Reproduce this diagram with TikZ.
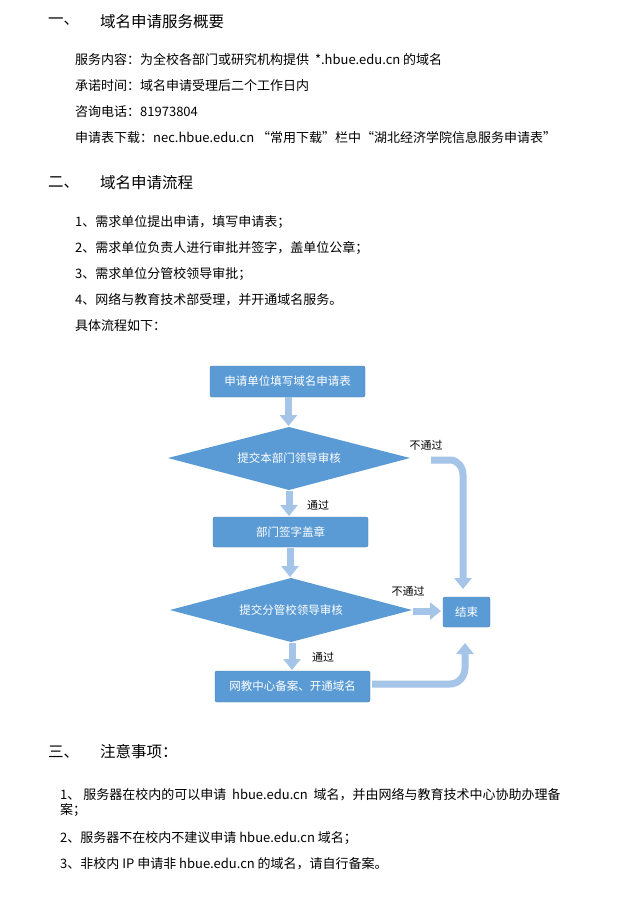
\documentclass[tikz,border=0pt]{standalone}
\usepackage{fontspec}
\setmainfont{Noto Sans CJK SC}
\usetikzlibrary{shapes.geometric,arrows.meta}
\definecolor{boxblue}{HTML}{5B9BD5}
\definecolor{arrblue}{HTML}{A4C4E8}
\begin{document}
\begin{tikzpicture}[x=1pt,y=-1pt,
  txt/.style={anchor=west,font=\fontsize{13}{15}\selectfont,inner sep=0},
  head/.style={anchor=west,font=\fontsize{15.5}{18}\selectfont,inner sep=0},
  flowbox/.style={draw=boxblue!80!black,line width=0.4pt,fill=boxblue,rounded corners=2pt,text=white,font=\fontsize{11.5}{13}\selectfont,inner sep=0},
  dia/.style={fill=boxblue,text=white,font=\fontsize{11.5}{13}\selectfont},
  lab/.style={font=\fontsize{11}{13}\selectfont,inner sep=0},
  fat/.style={draw=arrblue,line width=7pt,-{Triangle[width=17pt,length=11pt]}}]
\useasboundingbox[fill=white] (0,0) rectangle (641,910);
\node[head] (h1a) at (48,22) {一、};
\node[head] (h1b) at (100,22) {域名申请服务概要};
\node[txt] (t1) at (75,60) {服务内容：为全校各部门或研究机构提供 \ *.hbue.edu.cn 的域名};
\node[txt] (t2) at (75,86) {承诺时间：域名申请受理后二个工作日内};
\node[txt] (t3) at (75,112) {咨询电话：81973804};
\node[txt] (t4) at (75,138) {申请表下载：nec.hbue.edu.cn “常用下载”栏中“湖北经济学院信息服务申请表”};
\node[head] (h2a) at (48,183) {二、};
\node[head] (h2b) at (100,183) {域名申请流程};
\node[txt] (s1) at (75,222) {1、需求单位提出申请，填写申请表；};
\node[txt] (s2) at (75,248) {2、需求单位负责人进行审批并签字，盖单位公章；};
\node[txt] (s3) at (75,274) {3、需求单位分管校领导审批；};
\node[txt] (s4) at (75,300) {4、网络与教育技术部受理，并开通域名服务。};
\node[txt] (s5) at (75,326) {具体流程如下：};
% flow
\node[flowbox,minimum width=155pt,minimum height=31pt] (b1) at (287.5,381.5) {申请单位填写域名申请表};
\path[fill=boxblue] (168,458) -- (289,427) -- (410,458) -- (289,490) -- cycle;
\node[dia] (d1) at (289,458) {提交本部门领导审核};
\node[flowbox,minimum width=155pt,minimum height=30pt] (b2) at (290.5,532) {部门签字盖章};
\path[fill=boxblue] (170,610) -- (291,578) -- (412,610) -- (291,642) -- cycle;
\node[dia] (d2) at (291,610) {提交分管校领导审核};
\node[flowbox,minimum width=155pt,minimum height=31pt] (b3) at (292.5,686.5) {网教中心备案、开通域名};
\node[flowbox,minimum width=47pt,minimum height=30pt] (e) at (466.5,612) {结束};
\coordinate (d1b) at (289,490);
\coordinate (d2b) at (292,642);
\coordinate (d1r) at (431,460);
\coordinate (d2r) at (413,611);
\draw[fat] (288.5,397) -- (288.5,426);
\draw[fat] (289,491) -- (289,516);
\draw[fat] (290,548) -- (290,577);
\draw[fat] (292,643) -- (292,670);
\draw[fat] (d1r) -- (450,460) to[out=0,in=90] (463,475) -- (463,589);
\draw[fat] (d2r) -- (441,611);
\draw[fat] (372,684) -- (450,684) to[out=0,in=-90] (465,668) -- (465,643);
\node[lab] (l1) at (426,445) {不通过};
\node[lab] (l2) at (318,505) {通过};
\node[lab] (l3) at (408,591) {不通过};
\node[lab] (l4) at (323,657) {通过};
% section 3
\node[head] (h3a) at (48,752) {三、};
\node[head] (h3b) at (100,752) {注意事项：};
\node[txt] (n1) at (60,795) {1、\ 服务器在校内的可以申请 \ hbue.edu.cn \ 域名，并由网络与教育技术中心协助办理备};
\node[txt] (n1b) at (60,810) {案；};
\node[txt] (n2) at (60,838) {2、服务器不在校内不建议申请 hbue.edu.cn 域名；};
\node[txt] (n3) at (60,864) {3、非校内 IP 申请非 hbue.edu.cn 的域名，请自行备案。};
\end{tikzpicture}
\end{document}
